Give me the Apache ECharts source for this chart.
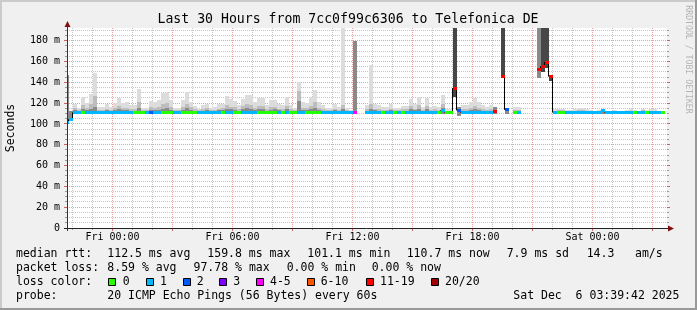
<!DOCTYPE html>
<html><head><meta charset="utf-8">
<script src="https://cdn.jsdelivr.net/npm/echarts@6/dist/echarts.min.js"></script>
<style>html,body{margin:0;padding:0;background:#f0f0f0}#c{width:697px;height:310px}</style>
</head><body><div id="c"></div>
<script>
// ---- data (hours relative to Fri 00:00, 12-minute columns, values in ms) ----
const START_H = -2.375, STEP_H = 0.2;
const med = [
101,104.5,111,111,111,111,111,111,111,111,
111,111,111,111,111,111,111,111,111,111,
111,111,111,111,111,111,111,111,111,111,
111,111,111,111,111,111,111,111,111,111,
111,111,111,111,111,111,111,111,111,111,
111,111,111,111,111,111,111,111,111,111,
111,111,111,111,111,111,111,111,111,111,
111,111,111,null,null,111,111,111,111,111,
111,111,111,111,111,111,111,111,111,111,
111,111,111,111,113,111,111,134.5,113,111,
111,111,111,111,111,111,111,111.5,null,146,
113.5,null,111,111,null,null,null,null,152,155.5,
159.5,145.5,111,111,111,111,111,111,111,111,
111,111,111,111,112.5,111,111,111,111,111,
111,111,111,111,111,111,111,111,111,111];
const loss = [
1,1,1,1,0,1,1,1,1,1,
1,1,1,1,1,1,1,0,0,0,
1,2,1,1,0,0,0,1,1,0,
0,0,0,1,1,1,1,1,1,0,
1,1,0,0,1,1,1,1,0,0,
0,0,0,1,0,1,0,0,1,1,
0,0,0,0,1,1,1,1,1,1,
1,1,4,null,null,1,1,1,1,0,
1,1,0,1,0,1,1,1,1,1,
1,1,1,0,1,0,0,6,2,1,
1,1,1,1,1,1,1,6,null,6,
2,null,0,1,null,null,null,null,6,6,
6,6,1,0,0,1,1,1,1,1,
1,1,1,1,1,1,1,1,1,1,
1,1,0,1,1,0,1,1,1,0];
const lo = [
101,104.5,110,110,110,110,110,110,110,110,
110,110,110,110,110,110,110,110,110,110,
110,110,110,110,110,110,110,110,110,110,
110,110,110,110,110,110,110,110,110,110,
110,110,110,110,110,110,110,110,110,110,
110,110,110,110,110,110,110,110,110,110,
110,110,110,110,110,110,110,110,110,110,
110,110,110,null,null,110,110,110,110,110,
110,110,110,110,110,110,110,110,110,110,
110,110,110,110,110,110,110,126,108,110,
110,110,110,110,110,110,110,110,null,144,
110,null,110,110,null,null,null,null,144,150,
154,141,110,110,110,110,110,110,110,110,
110,110,110,110,110,110,110,110,110,110,
110,110,110,110,110,110,110,110,110,110];
const hi = [
147,112,119.5,115,126,120,129,149,116.5,116,
119,116.5,120.5,125,120,121,118,118,133.5,115,
115,122,121.5,123,130,131,123,115,115,123,
131,121,117,114.5,118,119.5,115,116,119,119.5,
127,124,122,118,124,128,128,121,125,125,
118,123,123,119,118,126,118,115,140.5,121,
120,126,132.5,121,118,115.5,115,119,116,192,
115,113.5,180,null,null,118,156.5,119,118,116.5,
116.5,119,115,115,117.5,117.5,124,119,126,116.5,
125,116,117.5,116,128,114,114,192,116,118,
118,121,125,121,118,116.5,118,116,null,192,
113.5,null,116,116,null,null,null,null,192,192,
192,145.5,114,114.5,114.5,113,113,114,115,115,
114,113,112.5,113.5,113.5,112,112,113,112,112,
113,114,113,112,114.5,113,114,114,112,112];
const mid = [
147,112,115,113,118,115,119,127,113.5,113,
114.5,113.5,115.5,117,115,115.5,114,114,121,113,
113,116,115.5,116,119,120,116,113,113,116,
119.5,116,114,113,114,115,113,113.5,114.5,115,
118,116.5,116,114,117,119,118.5,115.5,117,117.5,
114,116,116.5,114.5,114,117,114,113,132,115.5,
115,117,121,115.5,114,113,113,114.5,113.5,118,
113,112.5,180,null,null,114,119,114.5,114,113.5,
113.5,114.5,113,113,114,114,117,114.5,118,113.5,
117,113,114,113,119,112.5,112.5,192,116,114,
114,115.5,117.5,115.5,114,113.5,114,116,null,192,
113.5,null,113.5,113.5,null,null,null,null,192,192,
192,145.5,112.5,113,113,112,112,112.5,113,113,
112.5,112,112,112,113,112,112,112,112,112,
112,112.5,112,112,113,112,112.5,112.5,112,112];
const dark = [
147,112,113,112,114,113,114.5,116,112.5,112,
113,112.5,113,114,113,113.5,112.5,112.5,115,112,
112,113.5,113,113.5,114,115,113.5,112,112,113,
115,113,112.5,112,112.5,113,112,112,113,113,
114,114,113.5,112.5,114,115,114,113,114,114,
112.5,113.5,114,113,112.5,114,112.5,112,122,113,
113,114,115,113,112.5,112,112,113,112.5,114,
112,112,180,null,null,112.5,114,113,112.5,112,
112,113,112,112,112.5,112.5,114,113,114.5,112,
114,112,112.5,112,115,112,112,192,116,112.5,
112.5,113,114.5,113,112.5,112,112.5,116,null,192,
113.5,null,112,112,null,null,null,null,192,192,
192,145.5,112,112,112,111.5,111.5,112,112,112,
112,111.5,111.5,111.5,112.5,111.5,111.5,111.5,111.5,111.5,
111.5,112,111.5,111.5,112,111.5,112,112,111.5,111.5];
const core = new Array(150).fill(null);
core[97] = 192; core[109] = 192; core[119] = 192; core[120] = 192; core[121] = 145.5;

const lossColors = ['#26ff00','#00b8ff','#0059ff','#7e00ff','#ff00ff','#ff5500','#ff0000','#a10000'];
const lossLabels = ['0','1','2','3','4-5','6-10','11-19','20/20'];
const xTickHours = [0,6,12,18,24];
const xTickLabels = ['Fri 00:00','Fri 06:00','Fri 12:00','Fri 18:00','Sat 00:00'];
const hourGrid = Array.from({length:30},(_,i)=>i-2);
const yGrid = Array.from({length:38},(_,i)=>(i+1)*5);

const times = med.map((_,k)=>START_H + k*STEP_H);
const colData = times.map((t,k)=>[t, t+STEP_H, k]);

const MONO = "'DejaVu Sans Mono', monospace";
const chart = echarts.init(document.getElementById('c'), null, {renderer:'canvas'});

function smokeItem(params, api){
  const t0 = api.value(0), t1 = api.value(1), k = api.value(2);
  const cs = params.coordSys;
  const ch = [];
  if (lo[k] == null) return {type:'group', children: ch};
  const layers = [[hi[k],'#dcdcdc'],[mid[k],'#bdbdbd'],[dark[k],'#8a8a8a'],[core[k],'#474747']];
  for (const [top,color] of layers){
    if (top == null || top <= lo[k]) continue;
    const p0 = api.coord([t0, top]), p1 = api.coord([t1, lo[k]]);
    const x0 = Math.max(Math.round(p0[0]), cs.x), x1 = Math.round(p1[0]);
    const y0 = Math.max(Math.round(p0[1]), cs.y), y1 = Math.round(p1[1]);
    ch.push({type:'rect', shape:{x:x0,y:y0,width:x1-x0,height:y1-y0}, style:{fill:color}});
  }
  return {type:'group', children: ch};
}
function stepItem(params, api){
  const t0 = api.value(0), k = api.value(2);
  if (k === 0 || med[k] == null || med[k-1] == null || med[k] === med[k-1]) return {type:'group', children:[]};
  const x = Math.round(api.coord([t0, 0])[0]) - 0.5;
  const ya = api.coord([t0, med[k-1]])[1], yb = api.coord([t0, med[k]])[1];
  return {type:'line', shape:{x1:x, y1:ya, x2:x, y2:yb}, style:{stroke:'#000', lineWidth:1}};
}
function medianItem(params, api){
  const t0 = api.value(0), t1 = api.value(1), k = api.value(2);
  const cs = params.coordSys;
  if (med[k] == null) return {type:'group', children:[]};
  const p0 = api.coord([t0, med[k]]), p1 = api.coord([t1, med[k]]);
  const x0 = Math.max(Math.round(p0[0]), cs.x), x1 = Math.round(p1[0]);
  const y0 = Math.round(p0[1] - 1.5);
  return {type:'rect', shape:{x:x0, y:y0, width:x1-x0, height:3}, style:{fill: lossColors[loss[k]]}};
}
const MINOR = '#c6c6c6', MAJOR = '#eda0a0';
function gridItem(params, api){
  const kind = api.value(0), v = api.value(1);
  const cs = params.coordSys;
  const major = (kind === 1 || kind === 3);
  const col = major ? MAJOR : MINOR;
  if (kind < 2){
    const x = Math.round(api.coord([v, 0])[0] - 0.5) + 0.5;
    return {type:'group', children:[
      {type:'line', shape:{x1:x, y1:cs.y, x2:x, y2:cs.y+cs.height}, style:{stroke:col, lineWidth:1, lineDash:[1,1]}},
      {type:'line', shape:{x1:x, y1:cs.y+cs.height, x2:x, y2:cs.y+cs.height+(major?3:2)}, style:{stroke: major?'#d06060':'#999', lineWidth:1}}
    ]};
  }
  const y = Math.round(api.coord([0, v])[1] - 0.5) + 0.5;
  return {type:'group', children:[
    {type:'line', shape:{x1:cs.x, y1:y, x2:cs.x+cs.width, y2:y}, style:{stroke:col, lineWidth:1, lineDash:[1,1]}},
    {type:'line', shape:{x1:cs.x-(major?3:2), y1:y, x2:cs.x, y2:y}, style:{stroke: major?'#d06060':'#999', lineWidth:1}},
    {type:'line', shape:{x1:cs.x+cs.width, y1:y, x2:cs.x+cs.width+(major?3:2), y2:y}, style:{stroke: major?'#d06060':'#999', lineWidth:1}}
  ]};
}
const gridData = [];
hourGrid.forEach(h=>gridData.push([h % 3 === 0 ? 1 : 0, h]));
yGrid.forEach(v=>gridData.push([v % 20 === 0 ? 3 : 2, v]));

// legend graphics
const g = [];
function txt(x, y, s, opt){
  g.push({type:'text', x:x, y:y, z:100, style:{text:s, font: (opt&&opt.font)||("11.5px "+MONO), fill:(opt&&opt.fill)||'#000', textAlign:(opt&&opt.align)||'left', textVerticalAlign:'middle'}});
}
txt(348, 19.5, 'Last 30 Hours from 7cc0f99c6306 to Telefonica DE', {font:'13.2px '+MONO, align:'center'});
g.push({type:'text', x:11, y:128, rotation:Math.PI/2, z:100, style:{text:'Seconds', font:'11.5px '+MONO, fill:'#000', textAlign:'center', textVerticalAlign:'middle'}});
g.push({type:'text', x:688, y:59.5, rotation:-Math.PI/2, z:100, style:{text:'RRDTOOL / TOBI OETIKER', font:'8.2px '+MONO, fill:'#b4b4b4', textAlign:'center', textVerticalAlign:'middle'}});
const L1 = 254.3, L2 = 268.3, L3 = 282.3, L4 = 296;
txt(16, L1, 'median rtt:'); txt(107.3, L1, '112.5 ms avg'); txt(207.3, L1, '159.8 ms max');
txt(307.3, L1, '101.1 ms min'); txt(406.7, L1, '110.7 ms now'); txt(506.7, L1, '7.9 ms sd');
txt(586.7, L1, '14.3'); txt(635, L1, 'am/s');
txt(16, L2, 'packet loss:'); txt(107.3, L2, '8.59 % avg'); txt(193.5, L2, '97.78 % max');
txt(286.7, L2, '0.00 % min'); txt(371.7, L2, '0.00 % now');
txt(16, L3, 'loss color:');
const boxX = [108, 145.5, 182.5, 219, 256, 306.5, 365.5, 430.5];
const labX = [122.7, 160, 196.7, 233.3, 270, 320.7, 380, 445];
lossLabels.forEach((lab,i)=>{
  g.push({type:'rect', z:100, shape:{x:Math.round(boxX[i])+0.5, y:278.5, width:7, height:7}, style:{fill:lossColors[i], stroke:'#000', lineWidth:1}});
  txt(labX[i], L3, lab);
});
txt(16, L4, 'probe:'); txt(107.3, L4, '20 ICMP Echo Pings (56 Bytes) every 60s'); txt(513.3, L4, 'Sat Dec  6 03:39:42 2025');
// axes lines and arrows
g.push({type:'line', z:100, shape:{x1:67.5, y1:231, x2:67.5, y2:25}, style:{stroke:'#333', lineWidth:1}});
g.push({type:'polygon', z:100, shape:{points:[[67.5,21],[64.5,27],[70.5,27]]}, style:{fill:'#801010'}});
g.push({type:'line', z:100, shape:{x1:64, y1:228.5, x2:669, y2:228.5}, style:{stroke:'#222', lineWidth:1}});
g.push({type:'polygon', z:100, shape:{points:[[674,228.5],[668,225.5],[668,231.5]]}, style:{fill:'#801010'}});
// frame shading
g.push({type:'rect', z:99, shape:{x:0,y:0,width:697,height:2}, style:{fill:'#cbcbcb'}});
g.push({type:'rect', z:99, shape:{x:0,y:0,width:2,height:310}, style:{fill:'#cbcbcb'}});
g.push({type:'rect', z:99, shape:{x:695,y:0,width:2,height:310}, style:{fill:'#999'}});
g.push({type:'rect', z:99, shape:{x:0,y:308,width:697,height:2}, style:{fill:'#999'}});

chart.setOption({
  animation:false,
  backgroundColor:'#f0f0f0',
  grid:{left:67, top:28, width:600, height:200, show:true, backgroundColor:'#fff', borderWidth:0},
  xAxis:{type:'value', min:-2.275, max:27.725, axisLine:{show:false}, axisTick:{show:false}, splitLine:{show:false},
    axisLabel:{customValues:xTickHours, formatter:(v)=>{const i=xTickHours.indexOf(v); return i<0?'':xTickLabels[i];}, fontFamily:'DejaVu Sans Mono', fontSize:10, color:'#000', margin:4}},
  yAxis:{type:'value', min:0, max:192.2, interval:20, axisLine:{show:false}, axisTick:{show:false}, splitLine:{show:false},
    axisLabel:{formatter:(v)=> v===0 ? '0' : (v%20===0 ? v+' m' : ''), showMaxLabel:false, fontFamily:'DejaVu Sans Mono', fontSize:10, color:'#000', margin:7}},
  graphic:{elements:g},
  series:[
    {type:'custom', name:'grid', data:gridData, renderItem:gridItem, encode:{x:1, y:0}, z:1, silent:true},
    {type:'custom', name:'smoke', data:colData, renderItem:smokeItem, encode:{x:[0,1], y:2}, z:2, silent:true},
    {type:'custom', name:'step', data:colData, renderItem:stepItem, encode:{x:[0,1], y:2}, z:3, silent:true},
    {type:'custom', name:'median', data:colData, renderItem:medianItem, encode:{x:[0,1], y:2}, z:4, silent:true}
  ]
});
</script></body></html>
